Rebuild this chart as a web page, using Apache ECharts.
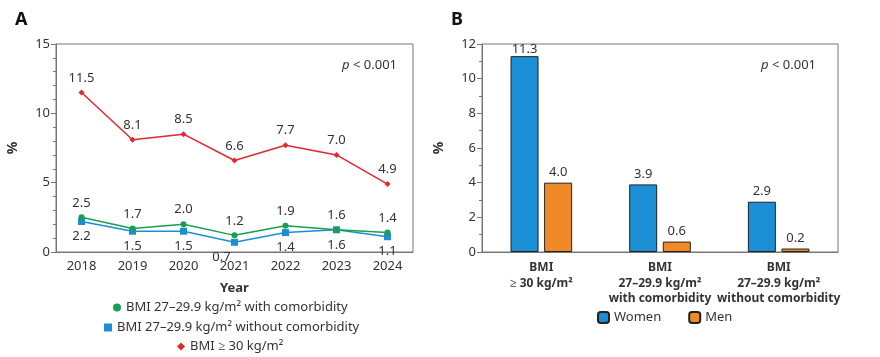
<!DOCTYPE html>
<html><head><meta charset="utf-8">
<script src="https://cdn.jsdelivr.net/npm/echarts@6/dist/echarts.min.js"></script>
<style>html,body{margin:0;padding:0;background:#fff}#c{width:880px;height:357px}</style>
</head><body><div id="c"></div>
<script>
const years = ['2018','2019','2020','2021','2022','2023','2024'];
const withComorb = [2.5, 1.7, 2.0, 1.2, 1.9, 1.6, 1.4];
const withoutComorb = [2.2, 1.5, 1.5, 0.7, 1.4, 1.6, 1.1];
const bmi30 = [11.5, 8.1, 8.5, 6.6, 7.7, 7.0, 4.9];
const seriesNamesA = ['BMI 27–29.9 kg/m² with comorbidity', 'BMI 27–29.9 kg/m² without comorbidity', 'BMI ≥ 30 kg/m²'];
const groupsB = ['BMI\n≥ 30 kg/m²', 'BMI\n27–29.9 kg/m²\nwith comorbidity', 'BMI\n27–29.9 kg/m²\nwithout comorbidity'];
const women = [11.3, 3.9, 2.9];
const men = [4.0, 0.6, 0.2];
const yTicksA = {min: 0, max: 15, interval: 5};
const yTicksB = {min: 0, max: 12, interval: 2};

const F = 'Noto Sans';
const txt = '#333';
const axisCol = '#777';
const green = '#1a9f50', blue = '#1b8fd2', red = '#e0282e';
const barBlue = '#1a8fd6', barOrange = '#f08a26';

const chart = echarts.init(document.getElementById('c'));
const yAxisCommon = (t) => ({
  type: 'value', min: t.min, max: t.max, interval: t.interval,
  name: '%', nameLocation: 'middle', nameGap: 36, nameRotate: 90,
  nameTextStyle: {fontFamily: F, fontSize: 14, fontWeight: 'bold', color: txt},
  axisLine: {show: true, lineStyle: {color: axisCol}},
  axisTick: {show: true, length: 5, lineStyle: {color: axisCol}},
  minorTick: {show: true, splitNumber: t.interval, length: 3, lineStyle: {color: axisCol}},
  splitLine: {show: false},
  axisLabel: {fontFamily: F, fontSize: 13, color: txt, margin: 6}
});
const lblA = (pos) => ({show: true, position: pos, distance: 5, fontFamily: F, fontSize: 13, color: txt, formatter: p => p.value.toFixed(1)});

chart.setOption({
  animation: false,
  textStyle: {fontFamily: F},
  title: [
    {text: 'A', left: 10, top: 6, textStyle: {fontFamily: F, fontSize: 18, fontWeight: 'bold', color: '#111'}},
    {text: 'B', left: 446, top: 6, textStyle: {fontFamily: F, fontSize: 18, fontWeight: 'bold', color: '#111'}},
    {text: '{i|p} < 0.001', right: 478, top: 54, textStyle: {fontFamily: F, fontSize: 13, color: txt, fontWeight: 'normal', rich: {i: {fontStyle: 'italic', fontFamily: F, fontSize: 13, color: txt}}}},
    {text: '{i|p} < 0.001', right: 59, top: 54, textStyle: {fontFamily: F, fontSize: 13, color: txt, fontWeight: 'normal', rich: {i: {fontStyle: 'italic', fontFamily: F, fontSize: 13, color: txt}}}}
  ],
  grid: [
    {left: 56, top: 44, width: 357, height: 208, show: true, borderColor: axisCol, borderWidth: 1},
    {left: 482, top: 44, width: 356, height: 208, show: true, borderColor: axisCol, borderWidth: 1}
  ],
  legend: [
    {data: [{name: seriesNamesA[0], icon: 'circle'}], left: 113, top: 301, itemWidth: 8, itemHeight: 8, itemGap: 0, padding: 0, textStyle: {fontFamily: F, fontSize: 13, color: txt}},
    {data: [{name: seriesNamesA[1], icon: 'rect'}], left: 104, top: 321, itemWidth: 8, itemHeight: 8, padding: 0, textStyle: {fontFamily: F, fontSize: 13, color: txt}},
    {data: [{name: seriesNamesA[2], icon: 'diamond'}], left: 177, top: 340, itemWidth: 8, itemHeight: 8, padding: 0, textStyle: {fontFamily: F, fontSize: 13, color: txt}},
    {data: ['Women', 'Men'], left: 597, top: 311, itemWidth: 11, itemHeight: 11, itemGap: 27, padding: 0, textStyle: {fontFamily: F, fontSize: 13, color: txt}}
  ],
  xAxis: [
    {type: 'category', gridIndex: 0, data: years, boundaryGap: true,
     name: 'Year', nameLocation: 'middle', nameGap: 30,
     nameTextStyle: {fontFamily: F, fontSize: 13, fontWeight: 'bold', color: txt},
     axisLine: {lineStyle: {color: axisCol}}, axisTick: {show: false},
     axisLabel: {fontFamily: F, fontSize: 13, color: txt, margin: 8}},
    {type: 'category', gridIndex: 1, data: groupsB,
     axisLine: {lineStyle: {color: axisCol}}, axisTick: {show: false},
     axisLabel: {fontFamily: F, fontSize: 12, fontWeight: 'bold', color: txt, margin: 8, lineHeight: 15.5, interval: 0}}
  ],
  yAxis: [
    Object.assign(yAxisCommon(yTicksA), {gridIndex: 0}),
    Object.assign(yAxisCommon(yTicksB), {gridIndex: 1})
  ],
  series: [
    {name: seriesNamesA[0], type: 'line', xAxisIndex: 0, yAxisIndex: 0, data: withComorb,
     color: green, symbol: 'circle', symbolSize: 6, lineStyle: {width: 1.5, color: green}, itemStyle: {color: green},
     label: lblA('top'), z: 3},
    {name: seriesNamesA[1], type: 'line', xAxisIndex: 0, yAxisIndex: 0,
     data: withoutComorb.map((v, i) => i === 3 ? {value: v, label: {offset: [-13, 0]}} : v),
     color: blue, symbol: 'rect', symbolSize: 7, lineStyle: {width: 1.5, color: blue}, itemStyle: {color: blue},
     label: lblA('bottom'), z: 2},
    {name: seriesNamesA[2], type: 'line', xAxisIndex: 0, yAxisIndex: 0, data: bmi30,
     color: red, symbol: 'diamond', symbolSize: 6, lineStyle: {width: 1.5, color: red}, itemStyle: {color: red},
     label: lblA('top')},
    {name: 'Women', type: 'bar', xAxisIndex: 1, yAxisIndex: 1,
     data: women.map((v, i) => i === 0 ? {value: v, label: {offset: [0, 4]}} : v), barWidth: 28, barGap: '20%',
     itemStyle: {color: barBlue, borderColor: '#222', borderWidth: 1},
     label: {show: true, position: 'top', distance: 4, fontFamily: F, fontSize: 13, color: txt, formatter: p => p.value.toFixed(1)}},
    {name: 'Men', type: 'bar', xAxisIndex: 1, yAxisIndex: 1, data: men, barWidth: 28,
     itemStyle: {color: barOrange, borderColor: '#222', borderWidth: 1},
     label: {show: true, position: 'top', distance: 4, fontFamily: F, fontSize: 13, color: txt, formatter: p => p.value.toFixed(1)}}
  ]
});
</script></body></html>
